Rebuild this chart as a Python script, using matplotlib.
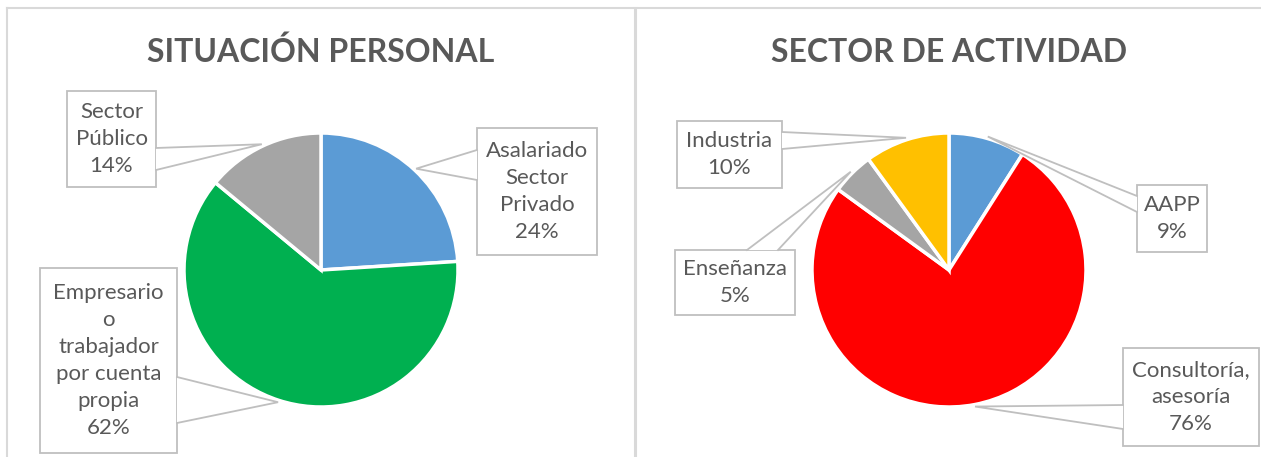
import numpy as np
import matplotlib.pyplot as plt
from matplotlib.patches import Rectangle, Polygon

plt.rcParams["font.family"] = ["Lato", "DejaVu Sans"]

W, H = 1261, 457

# data
situacion_labels = ["Asalariado\nSector\nPrivado",
                    "Empresario\no\ntrabajador\npor cuenta\npropia",
                    "Sector\nPúblico"]
situacion_values = [24, 62, 14]
situacion_colors = ["#5B9BD5", "#00B050", "#A5A5A5"]

sector_labels = ["AAPP", "Consultoría,\nasesoría", "Enseñanza", "Industria"]
sector_values = [9, 76, 5, 10]
sector_colors = ["#5B9BD5", "#FF0000", "#A5A5A5", "#FFC000"]

# layout (pixels from top-left): box x0, y0, x1, y1 and the two base points of the pointer
situacion_boxes = [
    ((477, 128, 597, 255), ((477, 150), (477, 180))),
    ((40, 268, 177, 453), ((177, 377), (177, 423))),
    ((67, 91, 156, 187), ((156, 148), (156, 170))),
]
sector_boxes = [
    ((1137, 185, 1207, 252), ((1137, 196), (1137, 212))),
    ((1123, 348, 1259, 446), ((1123, 405), (1123, 429))),
    ((675, 250, 795, 315), ((747, 250), (778, 250))),
    ((677, 121, 782, 188), ((782, 132), (782, 149))),
]

TEXT = "#595959"
BORDER = "#BFBFBF"
FRAME = "#D9D9D9"
R = 137


def fy(y):
    return H - y


def callout(ax, box, base, tip, text):
    x0, y0, x1, y1 = box
    ax.add_patch(Rectangle((x0, fy(y1)), x1 - x0, y1 - y0, facecolor="white",
                           edgecolor=BORDER, linewidth=1.3, zorder=5))
    (ax_, ay), (bx, by) = base
    tri = [(ax_, fy(ay)), tip, (bx, fy(by))]
    ax.add_patch(Polygon(tri, closed=True, facecolor="white", edgecolor="none", zorder=6))
    ax.plot([ax_, tip[0], bx], [fy(ay), tip[1], fy(by)], color=BORDER, lw=1.3,
            zorder=7, solid_joinstyle="miter")
    ax.text((x0 + x1) / 2, fy((y0 + y1) / 2), text, ha="center", va="center",
            fontsize=16, color=TEXT, linespacing=1.44, zorder=8)


def draw_pie(ax, cx, cy, values, labels, colors, boxes, title):
    center = (cx, fy(cy))
    wedges, _ = ax.pie(values, colors=colors, startangle=90, counterclock=False,
                       center=center, radius=R, frame=True,
                       wedgeprops={"edgecolor": "white", "linewidth": 2.5})
    for w, lab, v, (box, base) in zip(wedges, labels, values, boxes):
        mid = np.deg2rad((w.theta1 + w.theta2) / 2)
        tip = (center[0] + (R + 2) * np.cos(mid), center[1] + (R + 2) * np.sin(mid))
        callout(ax, box, base, tip, f"{lab}\n{v}%")
    ax.text(cx, fy(52), title, ha="center", va="center", fontsize=23,
            fontweight="bold", color=TEXT)


fig = plt.figure(figsize=(W / 100, H / 100), dpi=100)
ax = fig.add_axes([0, 0, 1, 1])

draw_pie(ax, 321, 270, situacion_values, situacion_labels, situacion_colors,
         situacion_boxes, "SITUACIÓN PERSONAL")
draw_pie(ax, 949, 270, sector_values, sector_labels, sector_colors,
         sector_boxes, "SECTOR DE ACTIVIDAD")

# chart frames
ax.plot([7, W], [fy(8), fy(8)], color=FRAME, lw=1.5)
ax.plot([7, 7], [fy(8), 0], color=FRAME, lw=1.5)
ax.plot([635, 635], [fy(8), 0], color=FRAME, lw=2.2)

ax.set_xlim(0, W)
ax.set_ylim(0, H)
ax.set_aspect("auto")
ax.axis("off")

fig.savefig("out.png", dpi=100)
